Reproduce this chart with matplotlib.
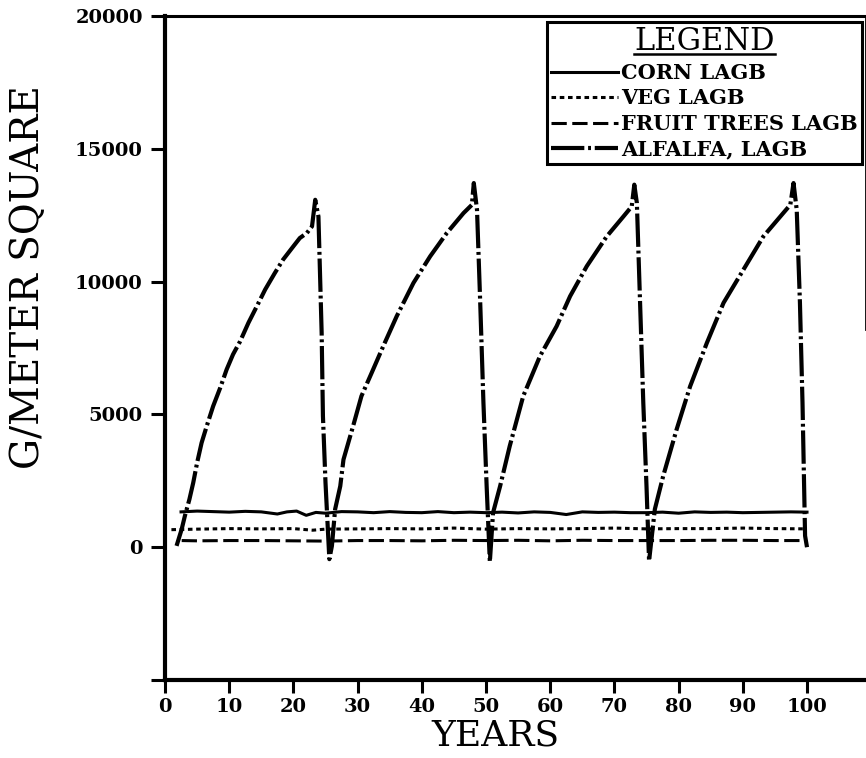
import numpy as np
from matplotlib import pyplot as plt

# alfalfa biomass, four 25-year stands
alf_years = [1.8, 2.6, 3.1, 3.8, 4.4, 5.0, 5.7, 6.5, 7.5, 8.6, 9.6, 10.6, 11.7, 13.0,
             14.3, 15.6, 17.1, 18.4, 20.0, 21.0, 22.1, 22.9, 23.4,
             23.9, 24.4, 24.6, 25.0, 25.6,
             26.0, 26.5, 27.3, 27.8, 29.3, 30.6, 32.2, 34.0, 36.1, 38.7, 41.3, 43.9,
             46.5, 47.8, 48.1,
             48.6, 49.1, 49.6, 50.1, 50.6,
             51.1, 52.2, 53.7, 55.8, 58.4, 61.0, 63.1, 65.7, 68.8, 71.4, 72.7, 73.1,
             73.5, 74.0, 74.5, 75.0, 75.4,
             76.3, 77.6, 79.7, 81.8, 84.4, 87.0, 90.1, 93.2, 96.3, 97.4, 97.9,
             98.4, 98.9, 99.3, 99.5, 99.7, 100.0]
alf_vals = [50, 680, 1180, 1800, 2430, 3180, 3930, 4560, 5310, 6000, 6690, 7260, 7750, 8450,
            9070, 9700, 10320, 10830, 11330, 11640, 11830, 12080, 13080,
            12450, 8070, 4940, 2430, -450,
            50, 1430, 2300, 3300, 4560, 5690, 6570, 7570, 8700, 9950, 10950, 11830,
            12580, 12890, 13710,
            12700, 9200, 5440, 2300, -550,
            1300, 2300, 3810, 5690, 7190, 8320, 9450, 10580, 11700, 12450, 12830, 13650,
            12960, 9200, 5440, 2300, -520,
            1430, 2680, 4440, 6060, 7690, 9200, 10450, 11700, 12580, 12890, 13710,
            12700, 9200, 5440, 2930, 430, 0]

corn_years = [2.5, 5, 7.5, 10, 12.5, 15, 17.5, 19, 20.5, 22, 23.5, 25, 27.5, 30, 32.5, 35,
              37.5, 40, 42.5, 45, 47.5, 50, 52.5, 55, 57.5, 60, 62.5, 65, 67.5, 70, 72.5,
              75, 77.5, 80, 82.5, 85, 87.5, 90, 92.5, 95, 97.5, 100]
corn_vals = [1330, 1360, 1340, 1320, 1350, 1330, 1250, 1330, 1360, 1200, 1310, 1280, 1340,
             1330, 1300, 1340, 1310, 1300, 1340, 1300, 1320, 1300, 1320, 1290, 1330, 1310,
             1230, 1330, 1310, 1320, 1300, 1300, 1320, 1280, 1330, 1310, 1320, 1300, 1310,
             1320, 1330, 1320]

veg_years = [1.0, 5, 10, 15, 20, 23, 25, 30, 35, 40, 45, 50, 55, 60, 65, 70, 75, 80, 85,
             90, 95, 100]
veg_vals = [660, 680, 700, 690, 700, 640, 680, 690, 700, 690, 720, 680, 700, 690, 700,
            720, 690, 700, 700, 720, 700, 690]

fruit_years = [2.6, 5, 10, 15, 20, 25, 30, 35, 40, 45, 50, 55, 60, 65, 70, 75, 80, 85,
               90, 95, 100]
fruit_vals = [250, 240, 250, 250, 240, 230, 250, 250, 240, 260, 250, 260, 240, 260, 250,
              250, 250, 260, 260, 250, 250]

xticks = [0, 10, 20, 30, 40, 50, 60, 70, 80, 90, 100]
yticks = [-5000, 0, 5000, 10000, 15000, 20000]
ylabels = ['', '0', '5000', '10000', '15000', '20000']

fig = plt.figure(figsize=(8.66, 7.58), dpi=100)
ax = fig.add_axes([165/866, 1-680/758, 1-165/866, (680-16)/758])

l1, = ax.plot(corn_years, corn_vals, color='k', lw=2.2, ls='-')
l2, = ax.plot(veg_years, veg_vals, color='k', lw=2.2, ls=(0, (1.5, 1.2)))
l3, = ax.plot(fruit_years, fruit_vals, color='k', lw=2.2, ls=(0, (5, 1.8)))
l4, = ax.plot(alf_years, alf_vals, color='k', lw=3.0, ls=(0, (8, 0.9, 0.7, 0.9)))

ax.set_xlim(0, (866-165)/6.42)
ax.set_ylim(-5000, 20000)
ax.set_xticks(xticks)
ax.set_yticks(yticks)
ax.set_yticklabels(ylabels)

for s in ['left', 'bottom']:
    ax.spines[s].set_linewidth(3.0)
ax.spines['top'].set_linewidth(2.2)
ax.spines['right'].set_linewidth(2.0)
ax.spines['right'].set_bounds(8200, 20000)

ax.tick_params(axis='y', direction='out', length=10, width=2.2, pad=6)
ax.tick_params(axis='x', direction='out', length=9, width=2.2, pad=4)
for lab in ax.get_xticklabels() + ax.get_yticklabels():
    lab.set_fontfamily('DejaVu Serif')
    lab.set_fontweight('bold')
    lab.set_fontsize(14)

ax.set_xlabel('YEARS', family='DejaVu Serif', fontsize=26)
ax.set_ylabel('G/METER SQUARE', family='DejaVu Serif', fontsize=28)
ax.xaxis.set_label_coords(0.472, -0.058)
ax.yaxis.set_label_coords(-0.168, 0.607)

leg = ax.legend([l1, l2, l3, l4],
                ['CORN LAGB', 'VEG LAGB', 'FRUIT TREES LAGB', 'ALFALFA, LAGB'],
                loc='upper right', bbox_to_anchor=(862/866, 1-22/758),
                bbox_transform=fig.transFigure, borderaxespad=0,
                fancybox=False, framealpha=1, edgecolor='k',
                prop={'family': 'DejaVu Serif', 'weight': 'bold', 'size': 15},
                title='LEGEND', title_fontproperties={'family': 'DejaVu Serif', 'size': 22},
                handlelength=3.2, handletextpad=0.15, labelspacing=0.27,
                borderpad=0.2)
leg.get_frame().set_linewidth(2.2)

# underline the legend title
fig.canvas.draw()
bb = leg.get_title().get_window_extent().transformed(fig.transFigure.inverted())
fig.add_artist(plt.Line2D([bb.x0, bb.x1], [bb.y0 + 0.004, bb.y0 + 0.004],
                          transform=fig.transFigure, color='k', lw=1.8))

fig.savefig('out.png', dpi=100)
